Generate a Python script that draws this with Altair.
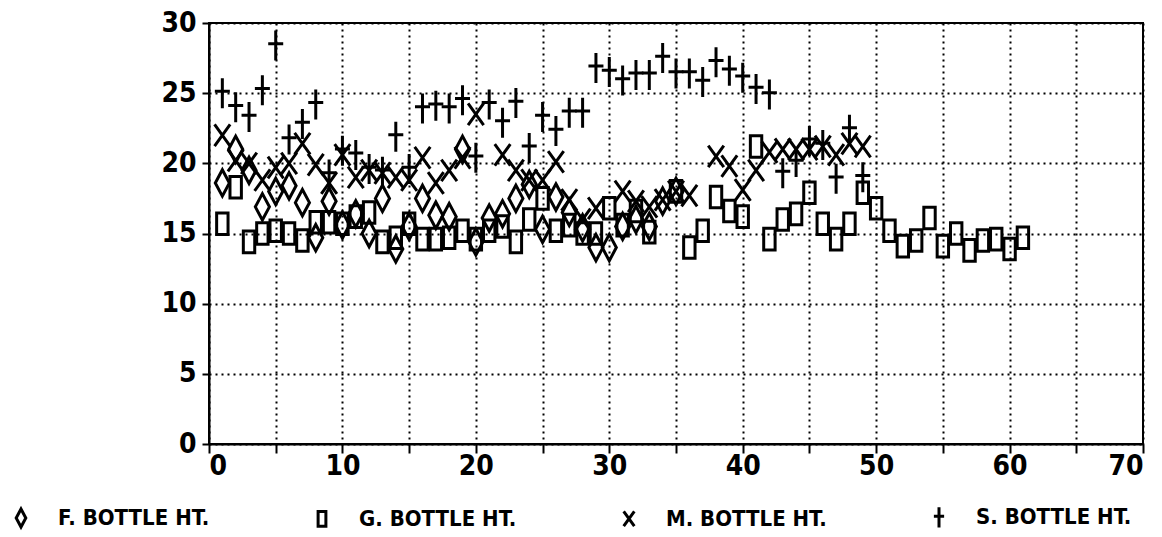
import altair as alt
import pandas as pd

# ---- data ----
series_names = ["F. BOTTLE HT.", "G. BOTTLE HT.", "M. BOTTLE HT.", "S. BOTTLE HT."]

f_x = list(range(1, 36))
f_y = [18.6, 21.0, 19.5, 16.9, 18.0, 18.4, 17.2, 14.7, 17.3, 15.6,
       16.4, 15.0, 17.5, 13.9, 15.5, 17.5, 16.3, 16.2, 21.0, 14.4,
       16.1, 16.4, 17.5, 18.5, 15.3, 17.6, 16.5, 15.4, 14.0, 14.0,
       15.5, 16.0, 15.5, 17.3, 18.0]

g_x = list(range(1, 62))
g_y = [15.7, 18.3, 14.4, 15.0, 15.2, 15.0, 14.5, 15.8, 15.8, 15.7,
       16.2, 16.5, 14.4, 14.7, 15.7, 14.6, 14.6, 14.7, 15.2, 14.6,
       15.2, 15.5, 14.4, 16.0, 17.5, 15.2, 15.6, 15.0, 15.0, 16.8,
       15.6, 16.6, 15.1, None, 18.0, 14.0, 15.2, 17.6, 16.6, 16.2,
       21.2, 14.6, 16.0, 16.4, 17.9, 15.7, 14.6, 15.7, 17.9, 16.8,
       15.2, 14.1, 14.5, 16.1, 14.1, 15.0, 13.8, 14.5, 14.6, 13.9,
       14.7]

m_x = list(range(1, 50))
m_y = [22.0, 20.2, 20.0, 18.8, 19.7, 20.0, 21.4, 19.9, 18.6, 20.6,
       19.0, 19.5, 19.3, 19.0, 18.8, 20.4, 18.6, 19.5, 20.4, 23.5,
       None, 20.6, 19.5, 18.8, 18.8, 20.1, 17.4, 16.0, 16.8, None,
       18.0, 17.3, 16.9, 17.4, 18.0, 17.7, None, 20.5, 19.8, 18.1,
       19.5, 20.8, 21.0, 21.0, 21.0, 21.2, 20.6, 21.4, 21.2]

s_x = list(range(1, 50))
s_y = [25.0, 24.0, 23.3, 25.2, 28.4, 21.7, 22.8, 24.2, 19.2, 20.9,
       20.6, 19.6, 19.4, 21.9, 19.6, 23.9, 24.1, 23.9, 24.5, 20.4,
       24.2, 22.9, 24.3, 21.1, 23.3, 22.3, 23.6, 23.6, 26.8, 26.5,
       25.9, 26.3, 26.3, 27.5, 26.4, 26.4, 25.8, 27.2, 26.6, 26.1,
       25.3, 24.9, 19.3, 20.1, 21.6, 21.3, 18.9, 22.4, 19.0]

x_ticks = list(range(0, 75, 5))
y_ticks = list(range(0, 35, 5))

# ---- table ----
rows = []
for name, xs, ys in zip(series_names, [f_x, g_x, m_x, s_x], [f_y, g_y, m_y, s_y]):
    for xv, yv in zip(xs, ys):
        if yv is not None:
            rows.append({"x": xv, "y": yv, "series": name})
df = pd.DataFrame(rows)

# marker outlines (unit coordinates)
shape_paths = [
    "M0,-0.88L0.47,0L0,0.88L-0.47,0Z",
    "M-0.38,-0.72H0.38V0.72H-0.38Z",
    "M-0.52,-0.72L0.52,0.72M0.52,-0.72L-0.52,0.72",
    "M0,-1V1M-0.5,-0.12H0.5",
]

FONT = "DejaVu Sans Condensed, Liberation Sans Narrow, sans-serif"

chart = alt.Chart(df).mark_point(
    filled=False, strokeWidth=3, color="black", opacity=1
).encode(
    x=alt.X("x:Q",
            scale=alt.Scale(domain=[0, 70], nice=False, zero=False),
            axis=alt.Axis(values=x_ticks, title=None,
                          labelExpr="datum.value % 10 == 0 ? datum.label : ''",
                          tickSize=9, labelPadding=-1)),
    y=alt.Y("y:Q",
            scale=alt.Scale(domain=[0, 30], nice=False),
            axis=alt.Axis(values=y_ticks, title=None, tickSize=7, labelPadding=6)),
    shape=alt.Shape("series:N",
                    scale=alt.Scale(domain=series_names, range=shape_paths),
                    legend=alt.Legend(title=None, orient="none",
                                      legendX=-200, legendY=482,
                                      direction="horizontal", columns=4,
                                      columnPadding=100, labelOffset=25,
                                      labelFont=FONT, labelFontSize=22,
                                      labelFontWeight="bold", labelColor="black",
                                      labelLimit=400,
                                      symbolSize=420, symbolStrokeWidth=3,
                                      symbolStrokeColor="black",
                                      symbolFillColor="transparent")),
    size=alt.value(900),
).properties(
    width=934, height=421,
    autosize="none",
    background="white",
    padding={"left": 209, "top": 23, "right": 19, "bottom": 93},
).configure_view(
    stroke="black", strokeWidth=2
).configure_axis(
    grid=True, gridColor="black", gridDash=[2, 4], gridWidth=2, gridOpacity=1,
    domainColor="black", domainWidth=2, tickColor="black", tickWidth=2,
    labelFont=FONT, labelFontSize=28, labelFontWeight="bold", labelColor="black",
)

chart.save("out.html", embed_options={"renderer": "svg", "actions": False})
